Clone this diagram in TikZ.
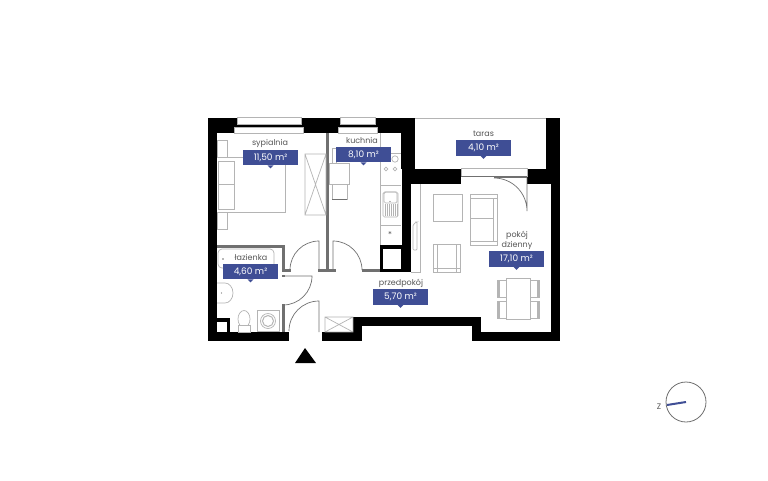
\documentclass[tikz,border=0pt]{standalone}
\usepackage{fontspec}
\setmainfont{Poppins}
\definecolor{navy}{HTML}{3F4E95}
\definecolor{partition}{HTML}{707070}
\definecolor{furngrey}{HTML}{B4B4B4}
\definecolor{labelgrey}{HTML}{555555}
\tikzset{
  wall/.style={fill=black,draw=none},
  part/.style={fill=partition,draw=none},
  furn/.style={draw=furngrey,line width=0.7pt,fill=none},
  furnw/.style={draw=furngrey,line width=0.7pt,fill=white},
  doorline/.style={draw=partition,line width=0.7pt},
  roomname/.style={font=\fontsize{8}{9}\selectfont,text=labelgrey,inner sep=0pt,align=center},
  areabox/.style={fill=navy,text=white,font=\fontsize{9}{10}\selectfont,inner sep=0pt,minimum width=55pt,minimum height=15.5pt},
  tipmark/.style={fill=navy,draw=none}
}
\newcommand{\tagbox}[4]{% name, cx, cy, text
  \node[areabox] (#1) at (#2,#3) {#4};
  \fill[tipmark] ($(#1.south)+(-3,0)$) -- ($(#1.south)+(3,0)$) -- ($(#1.south)+(0,3)$) -- cycle;
}
\usetikzlibrary{calc}
\begin{document}
\begin{tikzpicture}[x=1pt,y=-1pt]
\useasboundingbox (0,0) rectangle (768,480);
\fill[white] (0,0) rectangle (768,480);
% ---------- black walls
\fill[wall] (208,118) rectangle (415,133);
\fill[wall] (208,118) rectangle (217,341);
\fill[wall] (208,332) rectangle (289,341);
\fill[wall] (322,332) rectangle (362,341);
\fill[wall] (353,317) rectangle (362,341);
\fill[wall] (353,317) rectangle (481,326);
\fill[wall] (472,317) rectangle (481,341);
\fill[wall] (472,332) rectangle (560,341);
\fill[wall] (551,184) rectangle (560,341);
\fill[wall] (546,118) rectangle (560,184);
\fill[wall] (402,169) rectangle (461,184);
\fill[wall] (527,169) rectangle (560,184);
\fill[wall] (401,118) rectangle (415,169);
\fill[wall] (402,169) rectangle (411,272);
\fill[wall] (380,245) rectangle (411,272);
\fill[white] (383,249) rectangle (401,269);
\fill[wall] (217,318) rectangle (230,332);
\fill[white] (217,322) rectangle (227,332);
\draw[furngrey,line width=1pt] (415,118.5) -- (546,118.5);
% ---------- windows
\draw[furnw] (237,117.5) rectangle (301,124);
\draw[furnw] (234,127) rectangle (303,133);
\draw[furnw] (340,117.5) rectangle (375,124);
\draw[furnw] (338,127) rectangle (377,133);
\draw[furnw] (461,168) rectangle (527,176);
\fill[partition] (461,176) rectangle (494,177);
\fill[partition] (494,176) rectangle (527,178);
% ---------- partitions
\fill[part] (326,133) rectangle (329,272);
\fill[part] (217,245) rectangle (285,248);
\fill[part] (282,245) rectangle (285,272);
\fill[part] (282,269) rectangle (291,272);
\fill[part] (318,269) rectangle (336,272);
\fill[part] (362,269) rectangle (380,272);
\fill[part] (282,275) rectangle (285,277);
\fill[part] (282,304) rectangle (285,332);
% ---------- doors
\draw[doorline] (283,276) -- (312,276) arc[start angle=0,end angle=90,radius=29];
\draw[doorline] (319,270) -- (319,241) arc[start angle=-90,end angle=-180,radius=29];
\draw[doorline] (333,270) -- (333,241) arc[start angle=-90,end angle=0,radius=29];
\draw[doorline] (319,332) -- (319,301) arc[start angle=-90,end angle=-180,radius=30];
\draw[doorline] (527,177) -- (527,211) arc[start angle=0,end angle=-90,radius=33];
% ---------- bedroom
\draw[furn] (217,157) -- (285,157) -- (285,212) -- (217,212);
\draw[furnw] (218,161) rectangle (234,184);
\draw[furnw] (218,184) rectangle (234,209);
\draw[furn] (217,140) rectangle (227,157);
\draw[furn] (217,212) rectangle (227,229);
\draw[furn] (305,154) rectangle (326,215) (305,154) -- (326,215) (305,215) -- (326,154);
% ---------- kitchen
\draw[furn] (380,133) -- (380,245);
\draw[furn] (329,163) rectangle (349,184);
\draw[furn] (332,184) rectangle (347,199);
\draw[partition,line width=0.8pt] (332,199) -- (347,199);
\draw[furn] (332,148) rectangle (336,163);
\draw[furn] (380,153) -- (401,153) (380,185) -- (401,185) (380,225) -- (401,225);
\foreach \cx/\cy/\r in {395/159/3.2,386/169/1.8,395/169/1.8}{\draw[furn] (\cx,\cy) circle[radius=\r];}
\draw[furn,rounded corners=1.5pt] (383,192) rectangle (398,217);
\draw[furn,rounded corners=1.5pt] (384,192) rectangle (397,203);
\fill[partition] (390,201.5) circle[radius=0.6];
\foreach \x in {385,387,...,397}{\draw[furngrey,line width=0.6pt] (\x,204) -- (\x,216);}
\node[font=\fontsize{8}{8}\selectfont,text=labelgrey,inner sep=0pt] (hood) at (390,235) {*};
% ---------- living room
\draw[furn] (420,184) -- (420,272) -- (411,272);
\draw[furn,rounded corners=1pt] (413,225) -- (416,222) -- (417,222) -- (417,250) -- (413,250) -- cycle;
\draw[furn] (433,194) rectangle (462,221);
\draw[furn] (470,194) rectangle (497,245);
\draw[furn] (470,198) -- (497,198) (470,218) -- (493,218) (470,241) -- (497,241) (493,198) -- (493,241);
\draw[furn] (433,244) rectangle (460,272);
\draw[furn] (437,244) -- (437,272) (456,244) -- (456,272) (433,268) -- (460,268);
\foreach \y in {280,301}{
  \draw[furn] (497,\y) rectangle (506,\y+17);
  \draw[furn] (530,\y) rectangle (539,\y+17);
  \fill[furngrey] (497,\y) rectangle (499.5,\y+17);
  \fill[furngrey] (536.5,\y) rectangle (539,\y+17);
}
\draw[furnw] (506,278) rectangle (530,319);
% ---------- bathroom
\draw[furn,rounded corners=4pt] (218,249) rectangle (274,268);
\fill[partition] (223,259) circle[radius=0.9];
\draw[furn] (217,283) -- (225,283) arc[start angle=-90,end angle=90,x radius=8,y radius=10] -- (217,303);
\fill[partition] (221.5,293) circle[radius=0.6];
\draw[furn] (244,319) ellipse[x radius=6,y radius=8.5];
\draw[furnw] (238,325) rectangle (250,332);
\draw[furn] (257,310) rectangle (279,331);
\draw[furn] (268,321) circle[radius=7.5];
\draw[furn,line width=1pt] (268,321) circle[radius=5.5];
% ---------- hall cupboard
\draw[furn] (325,317) rectangle (353,332) (325,317) -- (353,332) (325,332) -- (353,317);
% ---------- room labels
\node[roomname] (n1) at (270,143.5) {sypialnia};
\tagbox{b1}{270.5}{157.5}{11,50 m²}
\node[roomname] (n2) at (362,140.5) {kuchnia};
\tagbox{b2}{363.5}{154.5}{8,10 m²}
\node[roomname] (n3) at (483.5,134) {taras};
\tagbox{b3}{483.5}{148}{4,10 m²}
\node[roomname] (n4) at (251,257.5) {łazienka};
\tagbox{b4}{250.5}{271.5}{4,60 m²}
\node[roomname] (n5) at (401,283.5) {przedpokój};
\tagbox{b5}{400.5}{297}{5,70 m²}
\node[roomname] (n6) at (517,240) {pokój\\[1pt]dzienny};
\tagbox{b6}{516.5}{259}{17,10 m²}
% ---------- entrance marker
\fill[black] (305,348) -- (316,363) -- (295,363) -- cycle;
% ---------- compass
\draw[draw=partition,line width=0.8pt] (686,402) circle[radius=20];
\draw[navy,line width=2pt] (686,402) -- (667,405);
\node[font=\fontsize{8}{8}\selectfont,text=labelgrey,inner sep=0pt] (north) at (659,406.5) {Z};
\end{tikzpicture}
\end{document}
